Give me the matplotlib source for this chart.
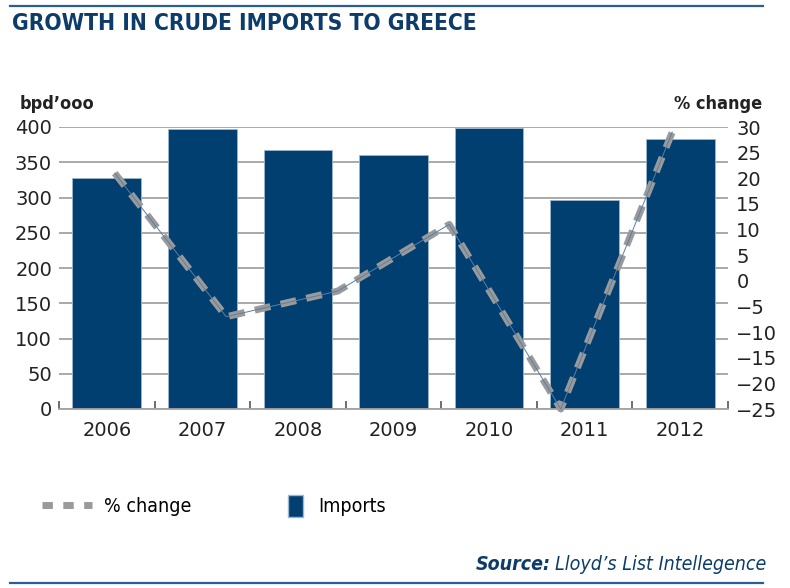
import matplotlib
matplotlib.use("Agg")
import matplotlib.pyplot as plt
from matplotlib import font_manager
from matplotlib.lines import Line2D
from matplotlib.patches import Patch

years = ["2006", "2007", "2008", "2009", "2010", "2011", "2012"]
imports = [328, 397, 367, 360, 398, 297, 383]
pct_change = [21, -7, -2, 11, -25, 29]

navy = "#003f6f"
title_blue = "#0d3c6b"
grey_dash = "#9a9a9a"

# pick a narrow face if one is around
names = {f.name for f in font_manager.fontManager.ttflist}
cond = [f for f in font_manager.fontManager.ttflist
        if f.name == "DejaVu Sans" and f.stretch == "condensed"]
if "Liberation Sans Narrow" in names:
    narrow, stretch = ["Liberation Sans Narrow", "DejaVu Sans"], "normal"
elif cond:
    narrow, stretch = ["DejaVu Sans"], "condensed"
else:
    narrow, stretch = ["Roboto", "DejaVu Sans"], "normal"

fig = plt.figure(figsize=(7.9, 5.88), dpi=100)
ax = fig.add_axes([59 / 790, 1 - 409 / 588, (728 - 59) / 790, (409 - 127) / 588])

xs = range(len(years))
ax.bar(xs, imports, width=0.72, color=navy, edgecolor="#9db7cf", linewidth=0.6, zorder=2)
ax.set_xlim(-0.5, len(years) - 0.5)
ax.set_ylim(0, 400)
ax.set_yticks(range(0, 401, 50))
ax.grid(axis="y", color="#a3a3a3", linewidth=1.3, zorder=0)
ax.set_axisbelow(True)
for s in ["left", "right", "top"]:
    ax.spines[s].set_visible(False)
ax.spines["bottom"].set_color("#a3a3a3")
ax.spines["bottom"].set_linewidth(1.3)
ax.tick_params(axis="y", length=0, pad=5, labelsize=14, labelcolor="#222222")
ax.set_xticks(xs)
ax.set_xticklabels(years, fontsize=14, color="#222222")
ax.tick_params(axis="x", length=0, pad=9)
ax.set_xticks([i - 0.5 for i in range(len(years) + 1)], minor=True)
ax.tick_params(axis="x", which="minor", direction="in", length=6, width=1.2, color="#555555")

ax2 = ax.twinx()
ax2.set_ylim(-25, 30)
ax2.set_yticks(range(-25, 31, 5))
ax2.tick_params(axis="y", length=0, pad=6, labelsize=14, labelcolor="#222222")
for s in ax2.spines.values():
    s.set_visible(False)

ax3 = ax2.twiny()
ax3.set_xlim(-0.5, len(pct_change) - 0.5)
ax3.set_xticks([])
for s in ax3.spines.values():
    s.set_visible(False)
ax3.plot(range(len(pct_change)), pct_change, color=grey_dash, linewidth=5,
         dashes=(2.3, 1.5), solid_capstyle="butt", clip_on=False, zorder=3)
ax3.plot(range(len(pct_change)), pct_change, color="#5a7fa8", linewidth=0.7,
         clip_on=False, zorder=4)

fig.text(20 / 790, 1 - 104 / 588, "bpd\u2019ooo", fontsize=13, fontweight="bold",
         family=narrow, fontstretch=stretch, color="#222222", va="center", ha="left")
fig.text(762 / 790, 1 - 104 / 588, "% change", fontsize=13, fontweight="bold",
         family=narrow, fontstretch=stretch, color="#222222", va="center", ha="right")

title = fig.text(12 / 790, 1 - 23 / 588, "GROWTH IN CRUDE IMPORTS TO GREECE", fontsize=19,
                 fontweight="bold", family=narrow, fontstretch=stretch, color=title_blue,
                 va="center", ha="left")
fig.canvas.draw()
w = title.get_window_extent().width
title.set_fontsize(19 * min(1.0, 462 / w))

fig.add_artist(Line2D([10 / 790, 763 / 790], [1 - 6 / 588] * 2, color="#2a5f95", linewidth=1.6))
fig.add_artist(Line2D([10 / 790, 763 / 790], [1 - 583 / 588] * 2, color="#2a5f95", linewidth=1.6))

# legend, two pieces so the box can stay square-ish
fig.legend([Line2D([], [], color=grey_dash, linewidth=5, dashes=(1.5, 1.5))],
           ["% change"], loc="center left", bbox_to_anchor=(24 / 790, 1 - 506 / 588),
           frameon=False, prop={"family": narrow, "stretch": stretch, "size": 14},
           handlelength=2.6, handletextpad=0.6)
fig.legend([Patch(facecolor=navy, edgecolor="#9db7cf")], ["Imports"], loc="center left",
           bbox_to_anchor=(270 / 790, 1 - 506 / 588), frameon=False,
           prop={"family": narrow, "stretch": stretch, "size": 14},
           handlelength=0.8, handleheight=1.4, handletextpad=0.8)

src = fig.text(766 / 790, 1 - 565 / 588, "Lloyd\u2019s List Intellegence", fontsize=14,
               style="italic", family=narrow, fontstretch=stretch, color=title_blue,
               va="center", ha="right")
fig.canvas.draw()
bb = src.get_window_extent()
fig.text((bb.x0 - 4) / 790, 1 - 565 / 588, "Source:", fontsize=14, fontweight="bold",
         style="italic", family=narrow, fontstretch=stretch, color=title_blue,
         va="center", ha="right")

fig.savefig("out.png", dpi=100)
